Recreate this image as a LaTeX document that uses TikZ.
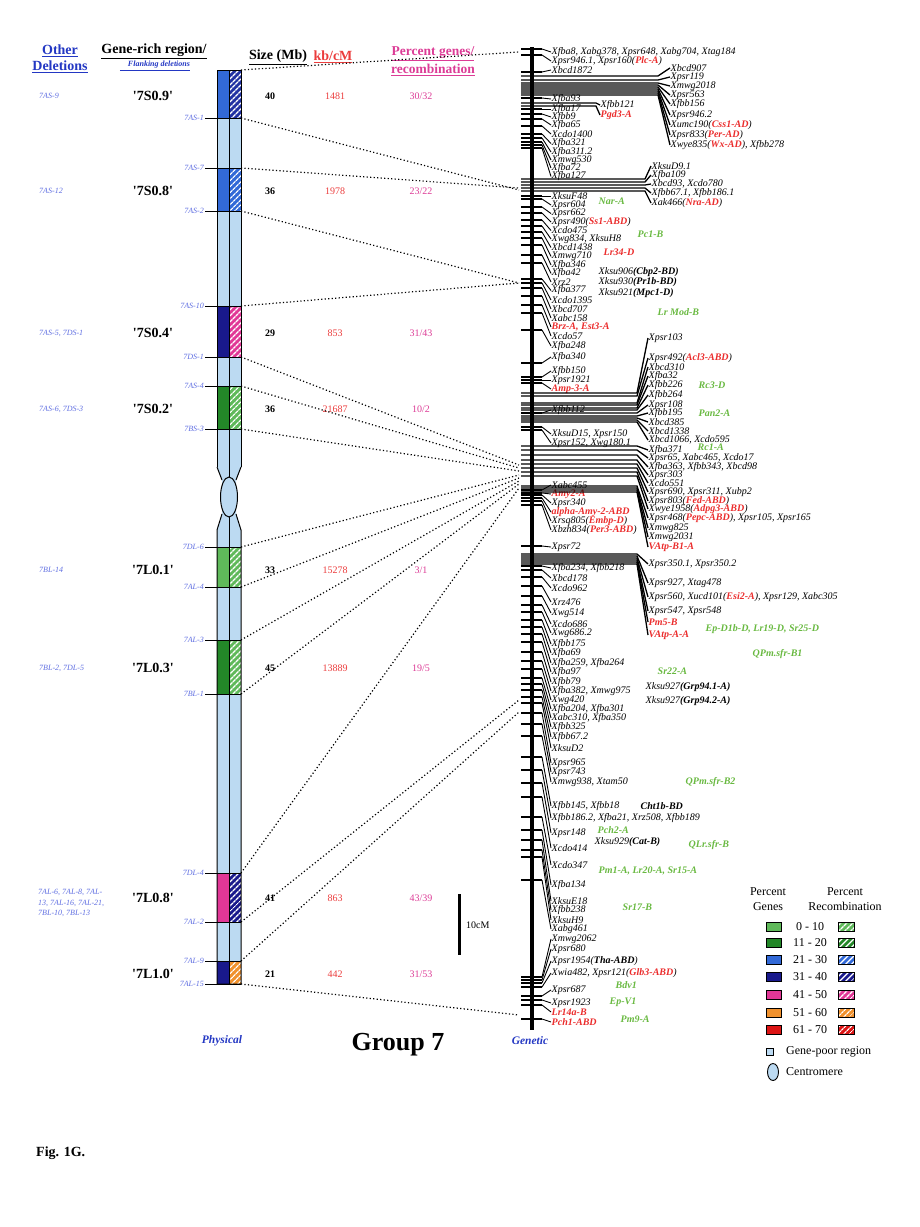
\documentclass[tikz,border=0pt]{standalone}
\usepackage{fontspec}
\setmainfont{Liberation Serif}
\usetikzlibrary{patterns.meta}

\definecolor{gpoor}{RGB}{188,218,242}
\definecolor{grlight}{RGB}{95,185,90}
\definecolor{grdark}{RGB}{35,135,40}
\definecolor{blmid}{RGB}{50,105,215}
\definecolor{blnavy}{RGB}{25,25,140}
\definecolor{pkmag}{RGB}{225,55,150}
\definecolor{ormid}{RGB}{240,145,45}
\definecolor{rdred}{RGB}{220,20,20}
\definecolor{delblue}{RGB}{95,110,225}
\definecolor{hdblue}{RGB}{35,55,195}
\definecolor{kbred}{RGB}{235,60,60}
\definecolor{pcmag}{RGB}{220,60,150}
\definecolor{locred}{RGB}{235,45,45}
\definecolor{locgreen}{RGB}{105,185,65}

\newcommand{\redloc}[1]{\textcolor{locred}{\bfseries #1}}
\newcommand{\boldloc}[1]{{\bfseries #1}}

\begin{document}
\begin{tikzpicture}[x=1pt,y=-1pt,
	mk/.style={anchor=west,inner sep=0.5pt,font=\fontsize{10}{11}\selectfont\itshape},
	trait/.style={anchor=west,inner sep=0.5pt,text=locgreen,font=\fontsize{10}{11}\selectfont\bfseries\itshape},
	lead/.style={line width=0.9pt},
	band/.style={line width=1.3pt},
	dotline/.style={line width=1.2pt,dash pattern=on 1.2pt off 2.3pt},
	chrline/.style={line width=1pt},
	rechatch/.style={preaction={fill=#1},pattern={Lines[angle=45,distance=4pt,line width=1.4pt]},pattern color=white},
	delname/.style={inner sep=1pt,text=delblue,font=\fontsize{8}{10.5}\selectfont\itshape},
	head/.style={inner sep=1pt,font=\fontsize{14}{16}\selectfont\bfseries},
	rowname/.style={inner sep=1pt,font=\fontsize{14}{16}\selectfont\bfseries},
	rowval/.style={inner sep=1pt,font=\fontsize{10}{11}\selectfont},
	legtext/.style={inner sep=1pt,font=\fontsize{12}{15}\selectfont},
	maplabel/.style={inner sep=1pt,text=hdblue,font=\fontsize{11.5}{12}\selectfont\bfseries\itshape}]

	\useasboundingbox (0,0) rectangle (919,1227);

	% headings
	\node[head,text=hdblue,align=center] (hod) at (60,59) {\underline{Other}\\\underline{Deletions}};
	\node[head] (hgr) at (154,51) {\underline{Gene-rich region/}};
	\node[inner sep=1pt,text=hdblue,font=\fontsize{8}{9}\selectfont\bfseries\itshape] (hfl) at (155,66) {\underline{\hspace{8pt}Flanking deletions}};
	\node[head] (hsz) at (278,57) {\underline{Size (Mb)}};
	\node[head,text=kbred] (hkb) at (333,57) {\underline{kb/cM}};
	\node[head,text=pcmag,align=center,font=\fontsize{13.5}{18}\selectfont\bfseries] (hpc) at (433,61) {\underline{Percent genes/}\\\underline{recombination}};

	% physical map
	\fill[gpoor] (217,70) rectangle (241,467);
	\fill[gpoor] (217,530) rectangle (241,984);
	\fill[gpoor] (217,467) -- (222,480) -- (222,514) -- (217,530) -- (241,530) -- (236,514) -- (236,480) -- (241,467) -- cycle;
	\foreach \ta/\tb/\gc/\rc in {70/118/blmid/blnavy!70!blmid, 168/211/blmid/blmid, 306/357/blnavy/pkmag, 386/429/grdark/grlight,
		547/587/grlight/grlight, 640/694/grdark/grlight, 873/922/pkmag/blnavy, 961/984/blnavy/ormid}{
		\fill[\gc] (217,\ta) rectangle (229,\tb);
		\fill[rechatch=\rc] (229,\ta) rectangle (241,\tb);
	}
	\draw[chrline] (217,467) -- (217,70) -- (241,70) -- (241,467);
	\draw[chrline] (229,70) -- (229,467);
	\draw[chrline] (217,467) -- (222,480);
	\draw[chrline] (241,467) -- (236,480);
	\draw[chrline] (229,467) -- (229,478);
	\draw[chrline,fill=gpoor] (229,497) ellipse [x radius=8.5,y radius=20];
	\draw[chrline] (222,514) -- (217,530) -- (217,984) -- (241,984) -- (241,530) -- (236,514);
	\draw[chrline] (229,517) -- (229,984);

	\coordinate (c0) at (241,70);
	\foreach \by/\bn [count=\k] in {118/7AS-1, 168/7AS-7, 211/7AS-2, 306/7AS-10, 357/7DS-1, 386/7AS-4, 429/7BS-3, 547/7DL-6,
		587/7AL-4, 640/7AL-3, 694/7BL-1, 873/7DL-4, 922/7AL-2, 961/7AL-9, 984/7AL-15}{
		\coordinate (c\k) at (241,\by);
		\node[delname,anchor=east] (d\k) at (205,\by) {\bn};
		\draw[chrline] (d\k.east) -- (c\k);
	}

	% rows
	\foreach \ry/\gn/\sz/\kb/\pc [count=\r] in {96/7S0.9/40/1481/30\slash 32, 191/7S0.8/36/1978/23\slash 22,
		333/7S0.4/29/853/31\slash 43, 409/7S0.2/36/21687/10\slash 2, 570/7L0.1/33/15278/3\slash 1,
		668/7L0.3/45/13889/19\slash 5, 898/7L0.8/41/863/43\slash 39, 974/7L1.0/21/442/31\slash 53}{
		\node[rowname] (gr\r) at (153,\ry) {\textquotesingle\gn\textquotesingle};
		\node[rowval,font=\fontsize{10}{11}\selectfont\bfseries] (sz\r) at (270,\ry) {\sz};
		\node[rowval,text=kbred] (kb\r) at (335,\ry) {\kb};
		\node[rowval,text=pcmag] (pc\r) at (421,\ry) {\pc};
	}
	\foreach \ry/\od [count=\r] in {96/7AS-9, 191/7AS-12, 333/{7AS-5, 7DS-1}, 409/{7AS-6, 7DS-3}, 570/7BL-14, 668/{7BL-2, 7DL-5}}
		\node[delname,anchor=west] (od\r) at (38,\ry) {\od};
	\node[delname,anchor=west,align=left] (od7) at (37,903) {7AL-6, 7AL-8, 7AL-\\13, 7AL-16, 7AL-21,\\7BL-10, 7BL-13};

	% dotted links
	\foreach \k/\gy in {0/52, 1/190, 2/188, 3/283, 4/283, 5/465, 6/468, 7/471, 8/475, 9/478, 10/481, 11/484, 12/488, 13/700, 14/712, 15/1015}{
		\coordinate (g\k) at (519,\gy);
		\draw[dotline] (c\k) -- (g\k);
	}

	% genetic map
	\coordinate (gtop) at (532,47);
	\coordinate (gbot) at (532,1030);
	\draw[line width=3.6pt] (gtop) -- (gbot);

	\foreach \ly/\ty/\tx [count=\i] in {
		52/49/{Xfba8, Xabg378, Xpsr648, Xabg704, Xtag184},
		61/55/{Xpsr946.1, Xpsr160(\redloc{Plc-A})},
		70/72/{Xbcd1872},
		99/98/{Xfba93},
		109/109/{Xfba17},
		117/114/{Xfbb9},
		125/119/{Xfba65},
		134/126/{Xcdo1400},
		143.5/134/{Xfba321},
		152/138/{Xfba311.2},
		160/142/{Xmwg530},
		168/145/{Xfba72},
		176.5/148/{Xfba127},
		196/196/{XksuF48},
		205/199/{Xpsr604},
		213.5/207/{Xpsr662},
		222/213/{Xpsr490(\redloc{Ss1-ABD})},
		230.5/220/{Xcdo475},
		239/226/{Xwg834, XksuH8},
		247.5/232/{Xbcd1438},
		256.5/238/{Xmwg710},
		265/245/{Xfba346},
		273.5/255/{Xfba42},
		282/263/{Xrz2},
		290.5/279/{Xfba377},
		300/283/{Xcdo1395},
		309/288/{Xbcd707},
		318/296/{Xabc158},
		327/305/{\redloc{Brz-A, Est3-A}},
		336/313/{Xcdo57},
		346/330/{Xfba248},
		357/363/{Xfba340},
		371/377/{Xfbb150},
		380/380/{Xpsr1921},
		389/383/{\redloc{Amp-3-A}},
		410/413/{Xfbb112},
		434/427/{XksuD15, Xpsr150},
		443/430/{Xpsr152, Xwg180.1},
		485/490/{Xabc455},
		494/493/{\redloc{Amy2-A}},
		503/495/{Xpsr340},
		512/498/{\redloc{alpha-Amy-2-ABD}},
		521/501/{Xrsq805(\redloc{Embp-D})},
		530/505/{Xbzh834(\redloc{Per3-ABD})},
		547/546/{Xpsr72},
		568/566/{Xfba234, Xfbb218},
		578/570/{Xbcd178},
		588/577/{Xcdo962},
		602/586/{Xrz476},
		613/596/{Xwg514},
		624/605/{Xcdo686},
		633/612/{Xwg686.2},
		644/620/{Xfbb175},
		653/627/{Xfba69},
		663/634/{Xfba259, Xfba264},
		672/642/{Xfba97},
		682/652/{Xfbb79},
		691/661/{Xfba382, Xmwg975},
		700/669/{Xwg420},
		709/678/{Xfba204, Xfba301},
		718/684/{Xabc310, Xfba350},
		727/690/{Xfbb325},
		737/697/{Xfbb67.2},
		748/703/{XksuD2},
		763/713/{Xpsr965},
		772/724/{Xpsr743},
		782/736/{Xmwg938, Xtam50},
		806/757/{Xfbb145, Xfbb18},
		818/770/{Xfbb186.2, Xfba21, Xrz508, Xfbb189},
		833/783/{Xpsr148},
		848/797/{Xcdo414},
		865/817/{Xcdo347},
		885/830/{Xfba134},
		901/840/{XksuE18},
		910/850/{Xfbb238},
		920/857/{XksuH9},
		929/880/{Xabg461},
		939/977/{Xmwg2062},
		949/980/{Xpsr680},
		961/983/{Xpsr1954(\boldloc{Tha-ABD})},
		973/987/{Xwia482, Xpsr121(\redloc{Glb3-ABD})},
		990/996/{Xpsr687},
		1003/1000/{Xpsr1923},
		1012/1005/{\redloc{Lr14a-B}},
		1022/1019/{\redloc{Pch1-ABD}}}{
		\coordinate (s\i) at (521,\ty);
		\coordinate (t\i) at (542,\ty);
		\node[mk] (m\i) at (551,\ly) {\tx};
		\draw[band] (s\i) -- (t\i);
		\draw[lead] (t\i) -- (m\i.west);
	}

	\foreach \ly/\ty/\tx [count=\i] in {105/103/{Xfbb121}, 115/106/{\redloc{Pgd3-A}}}{
		\coordinate (ps\i) at (521,\ty);
		\coordinate (ph\i) at (596,\ty);
		\node[mk] (p\i) at (600,\ly) {\tx};
		\draw[band] (ps\i) -- (ph\i) -- (p\i.west);
	}

	\foreach \ly/\ty/\tx [count=\i] in {68/76/{Xbcd907}, 77/80/{Xpsr119}, 86/83/{Xmwg2018}, 95/85/{Xpsr563},
		104/87/{Xfbb156}, 115/89/{Xpsr946.2}, 125/91/{Xumc190(\redloc{Css1-AD})}, 135/93/{Xpsr833(\redloc{Per-AD})},
		145/95/{Xwye835(\redloc{Wx-AD}), Xfbb278}}{
		\coordinate (as\i) at (521,\ty);
		\coordinate (ah\i) at (658,\ty);
		\node[mk] (a\i) at (670,\ly) {\tx};
		\draw[band] (as\i) -- (ah\i) -- (a\i.west);
	}

	\foreach \ly/\ty/\tx [count=\i] in {166/179/{XksuD9.1}, 175/182/{Xfba109}, 184/185/{Xbcd93, Xcdo780},
		193/188/{Xfbb67.1, Xfbb186.1}, 203/191/{Xak466(\redloc{Nra-AD})}}{
		\coordinate (bs\i) at (521,\ty);
		\coordinate (bh\i) at (645,\ty);
		\node[mk] (b\i) at (651,\ly) {\tx};
		\draw[band] (bs\i) -- (bh\i) -- (b\i.west);
	}

	\foreach \ly/\ty/\tx [count=\i] in {338/393/{Xpsr103}, 358/396/{Xpsr492(\redloc{Acl3-ABD})}, 367/403/{Xbcd310},
		376/405/{Xfba32}, 385/408/{Xfbb226}, 395/410/{Xfbb264}, 405/413/{Xpsr108}, 413/416/{Xfbb195},
		422/418/{Xbcd385}, 431/420/{Xbcd1338}, 440/422/{Xbcd1066, Xcdo595}}{
		\coordinate (es\i) at (521,\ty);
		\coordinate (eh\i) at (637,\ty);
		\node[mk] (e\i) at (648,\ly) {\tx};
		\draw[band] (es\i) -- (eh\i) -- (e\i.west);
	}

	\foreach \ly/\ty/\tx [count=\i] in {450/446/{Xfba371}, 458/450/{Xpsr65, Xabc465, Xcdo17},
		467/455/{Xfba363, Xfbb343, Xbcd98}, 475/460/{Xpsr303}, 483/464/{Xcdo551}, 492/468/{Xpsr690, Xpsr311, Xubp2},
		501/472/{Xpsr803(\redloc{Fed-ABD})}, 509/476/{Xwye1958(\redloc{Adpg3-ABD})},
		518/486/{Xpsr468(\redloc{Pepc-ABD}), Xpsr105, Xpsr165}, 528/488/{Xmwg825}, 537/490/{Xmwg2031},
		547/492/{\redloc{VAtp-B1-A}}}{
		\coordinate (ns\i) at (521,\ty);
		\coordinate (nh\i) at (637,\ty);
		\node[mk] (n\i) at (648,\ly) {\tx};
		\draw[band] (ns\i) -- (nh\i) -- (n\i.west);
	}

	\foreach \ly/\ty/\tx [count=\i] in {564/554/{Xpsr350.1, Xpsr350.2}, 583/556/{Xpsr927, Xtag478},
		597/558/{Xpsr560, Xucd101(\redloc{Esi2-A}), Xpsr129, Xabc305}, 611/560/{Xpsr547, Xpsr548},
		622/562/{\redloc{Pm5-B}}, 635/564/{\redloc{VAtp-A-A}}}{
		\coordinate (us\i) at (521,\ty);
		\coordinate (uh\i) at (637,\ty);
		\node[mk] (u\i) at (648,\ly) {\tx};
		\draw[band] (us\i) -- (uh\i) -- (u\i.west);
	}

	% loci without leaders
	\node[mk,text=locred,font=\fontsize{10}{11}\selectfont\bfseries\itshape] (lr34) at (603,252) {Lr34-D};
	\node[mk] (k906) at (598,272) {Xksu906\boldloc{(Cbp2-BD)}};
	\node[mk] (k930) at (598,282) {Xksu930\boldloc{(Pr1b-BD)}};
	\node[mk] (k921) at (598,293) {Xksu921\boldloc{(Mpc1-D)}};
	\node[mk] (k9271) at (645,687) {Xksu927\boldloc{(Grp94.1-A)}};
	\node[mk] (k9272) at (645,701) {Xksu927\boldloc{(Grp94.2-A)}};
	\node[mk] (cht) at (640,806) {\boldloc{Cht1b-BD}};
	\node[mk] (k929) at (594,842) {Xksu929\boldloc{(Cat-B)}};
	\foreach \fx/\fy/\ft [count=\i] in {598/201/{Nar-A}, 637/234/{Pc1-B}, 657/312/{Lr Mod-B}, 698/385/{Rc3-D},
		698/413/{Pan2-A}, 697/447/{Rc1-A}, 705/629/{Ep-D1b-D, Lr19-D, Sr25-D}, 752/654/{QPm.sfr-B1},
		657/671/{Sr22-A}, 685/782/{QPm.sfr-B2}, 597/830/{Pch2-A}, 688/845/{QLr.sfr-B},
		598/871/{Pm1-A, Lr20-A, Sr15-A}, 622/907/{Sr17-B}, 615/985/{Bdv1}, 609/1002/{Ep-V1}, 620/1019/{Pm9-A}}
		\node[trait] (f\i) at (\fx,\fy) {\ft};

	% legend
	\node[legtext,align=center] (lgg) at (768,899) {Percent\\Genes};
	\node[legtext,align=center] (lgr) at (845,899) {Percent\\Recombination};
	\foreach \ly/\rng/\lc [count=\i] in {927/0 - 10/grlight, 943/11 - 20/grdark, 960/21 - 30/blmid, 977/31 - 40/blnavy,
		995/41 - 50/pkmag, 1013/51 - 60/ormid, 1030/61 - 70/rdred}{
		\draw[line width=0.8pt,fill=\lc] (766,\ly-4.5) rectangle (781,\ly+4.5);
		\node[legtext] (lr\i) at (810,\ly) {\rng};
		\draw[line width=0.8pt,rechatch=\lc] (838,\ly-4.5) rectangle (854,\ly+4.5);
	}
	\draw[line width=0.8pt,fill=gpoor] (766,1048.5) rectangle (773,1055.5);
	\node[legtext,anchor=west] (lgp) at (785,1052) {Gene-poor region};
	\draw[line width=0.9pt,fill=gpoor] (773,1072) ellipse [x radius=5.5,y radius=8.5];
	\node[legtext,anchor=west] (lgc) at (785,1072) {Centromere};

	% scale and captions
	\coordinate (sct) at (459,894);
	\coordinate (scb) at (459,955);
	\draw[line width=3pt] (sct) -- (scb);
	\node[rowval,anchor=west] (scl) at (465,925) {10cM};
	\node[maplabel] (phy) at (222,1041) {Physical};
	\node[inner sep=1pt,font=\fontsize{26}{28}\selectfont\bfseries] (grp) at (398,1045) {Group 7};
	\node[maplabel] (gen) at (530,1041) {Genetic};
	\node[inner sep=1pt,anchor=west,font=\fontsize{14}{16}\selectfont\bfseries] (fig) at (35,1153) {Fig. 1G.};
\end{tikzpicture}
\end{document}
